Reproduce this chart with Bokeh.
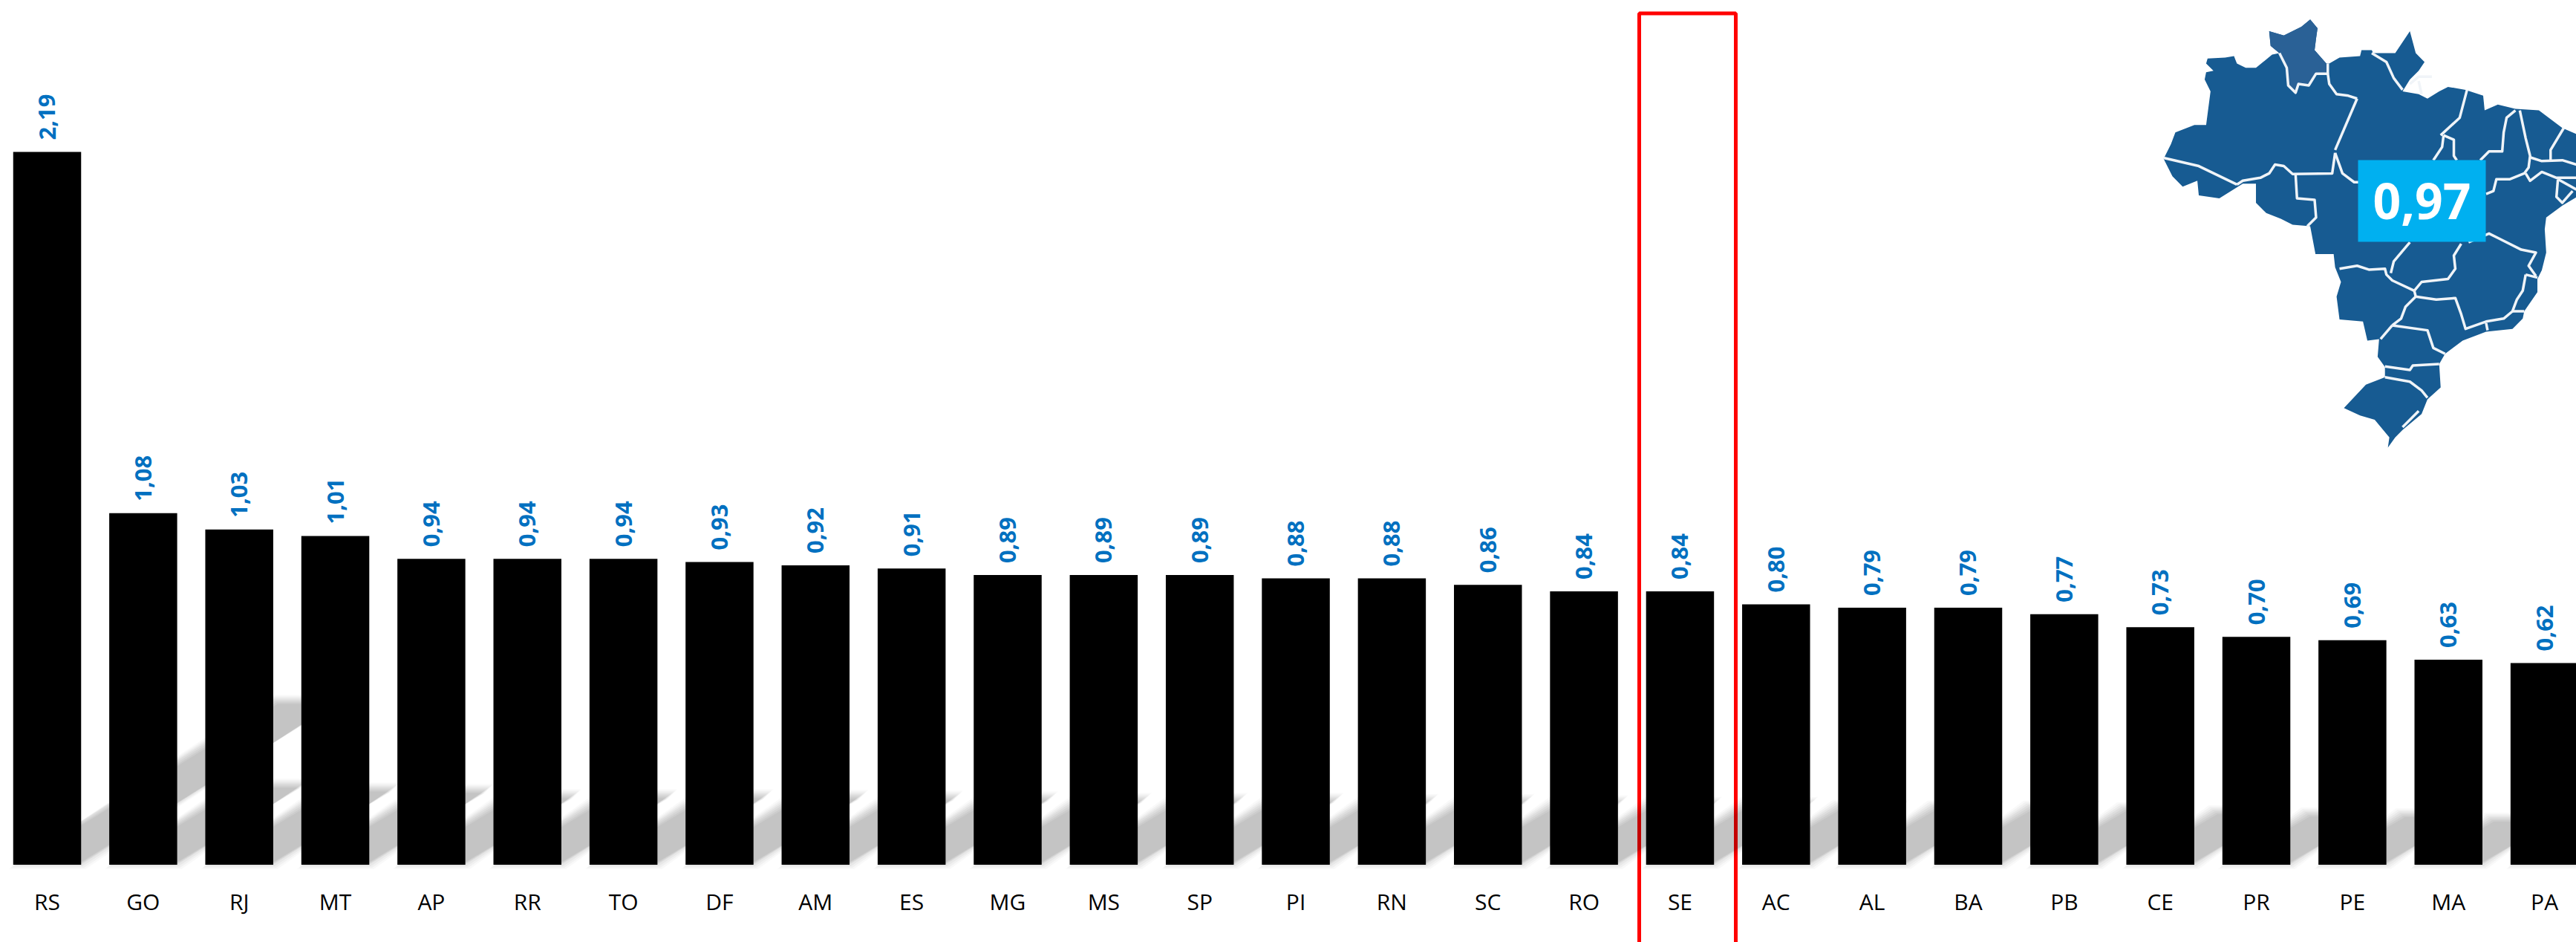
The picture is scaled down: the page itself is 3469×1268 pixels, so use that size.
from bokeh.plotting import figure
from bokeh.embed import file_html
from bokeh.resources import INLINE
from bokeh.models import Range1d, FixedTicker, LinearAxis
from bokeh.core.properties import value

STATES = ["RS","GO","RJ","MT","AP","RR","TO","DF","AM","ES","MG","MS","SP","PI","RN","SC","RO","SE","AC","AL","BA","PB","CE","PR","PE","MA","PA"]
VALUES = [2.19,1.08,1.03,1.01,0.94,0.94,0.94,0.93,0.92,0.91,0.89,0.89,0.89,0.88,0.88,0.86,0.84,0.84,0.80,0.79,0.79,0.77,0.73,0.70,0.69,0.63,0.62]
NATIONAL = "0,97"

MARGIN = 0
W, H = 3469 - MARGIN, 1268 - MARGIN
X0, PPX = 63.0 - MARGIN, 129.35      # pixel centre of the first bar, pixels per category
Y0, PPY = 1163.6 - MARGIN, 438.2     # baseline pixel, pixels per unit
BAR_PX = 91.5

def dx(px): return px / PPX
def dy(px): return px / PPY
def fx(ref): return (ref - MARGIN - X0) / PPX
def fy(ref): return (Y0 - (ref - MARGIN)) / PPY

p = figure(width=W, height=H, output_backend="svg", toolbar_location=None,
           x_range=Range1d(-X0 / PPX, (W - X0) / PPX),
           y_range=Range1d(-(H - Y0) / PPY, Y0 / PPY),
           x_axis_location=None, y_axis_location=None, min_border=0,
           background_fill_color="white", border_fill_color="white")
p.outline_line_color = None
p.grid.visible = False

xs = list(range(len(STATES)))

axis = LinearAxis(ticker=FixedTicker(ticks=xs),
                  major_label_overrides={i: s for i, s in zip(xs, STATES)},
                  fixed_location=0)
axis.axis_line_color = None
axis.major_tick_line_color = None
axis.minor_tick_line_color = None
axis.major_label_standoff = 23
axis.major_label_text_font = "Open Sans"
axis.major_label_text_font_size = "30px"
axis.major_label_text_color = "#000000"
p.add_layout(axis, "below")

# highlight frame
p.quad(left=[fx(2207)], right=[fx(2337)], top=[fy(17.5)], bottom=[fy(1400)],
       fill_color=None, line_color="#FF0000", line_width=5)

# diagonal cast shadows
half = dx(BAR_PX) / 2
for inset, alpha in ((-6, .025), (-4, .03), (-2, .035), (0, .04), (2, .04), (4, .04), (6, .04)):
    sx, sy = [], []
    for i, v in zip(xs, VALUES):
        sh = v * 0.232
        sk = dx(v * PPY * 0.365)
        t = max(sh - dy(inset), dy(2))
        sx.append([i - half + dx(inset), i + half - dx(inset), i + half - dx(inset) + sk, i - half + dx(inset) + sk])
        sy.append([dy(min(0, inset)), dy(min(0, inset)), t, t])
    p.patches(sx, sy, fill_color="black", fill_alpha=alpha, line_color=None)

# bars
p.vbar(x=xs, top=VALUES, bottom=0, width=dx(BAR_PX), fill_color="#000000", line_color=None)

# value labels
p.text(x=xs, y=[v + dy(16) for v in VALUES],
       text=[f"{v:.2f}".replace(".", ",") for v in VALUES],
       angle=1.5708, text_align="left", text_baseline="middle",
       text_color="#0070C0", text_font=value("Open Sans"),
       text_font_style="bold", text_font_size="31px")

# Map of Brazil (traced outline, in crop coordinates)
OUTLINE = [(660,65),(685,95),(680,130),(675,170),(715,215),(725,215),(760,195),(830,190),(835,170),(870,170),(875,180),(950,180),(1000,105),(1020,180),(1050,210),(1030,240),(1000,270),(975,310),(1030,320),(1060,335),(1100,310),(1130,295),(1190,305),(1250,325),(1255,375),(1300,355),(1360,370),(1440,375),(1520,435),(1600,470),(1640,560),(1620,640),(1520,700),(1465,740),(1460,780),(1465,860),(1450,920),(1435,950),(1435,995),(1390,1060),(1385,1085),(1350,1120),(1260,1130),(1180,1160),(1120,1205),(1100,1240),(1105,1320),(1060,1360),(1040,1410),(975,1465),(950,1490),(925,1525),(930,1490),(880,1430),(830,1415),(775,1390),(850,1310),(915,1285),(915,1250),(890,1215),(895,1155),(855,1160),(840,1095),(760,1088),(750,1010),(765,960),(745,910),(740,865),(678,865),(660,770),(600,765),(560,745),(510,725),(475,690),(475,625),(430,625),(350,675),(280,665),(275,615),(225,635),(190,600),(160,540),(185,490),(200,450),(265,425),(305,425),(320,310),(300,270),(305,245),(330,240),(305,215),(310,198),(370,195),(400,190),(410,215),(440,230),(475,230),(530,185),(555,180),(525,155),(520,105),(570,120),(630,90)]
ROR = [(660,65),(685,95),(680,130),(675,170),(715,215),(720,245),(680,250),(655,290),(620,285),(610,315),(585,290),(580,230),(555,180),(525,155),(520,105),(570,120),(630,90)]
BORDERS = [
 [(160,537),(280,565),(410,628)],
 [(410,628),(430,615),(490,605),(520,590),(540,560),(570,565),(600,592),(735,590),(745,520)],
 [(745,510),(820,335)],
 [(555,180),(580,230),(585,290),(610,315),(620,285),(655,290),(680,250),(720,250),(725,285),(750,320),(790,325),(820,335)],
 [(720,215),(720,250)],
 [(870,180),(920,210),(945,265),(975,305)],
 [(610,592),(615,675),(675,680),(680,740),(650,770)],
 [(745,520),(770,590),(810,620),(830,620)],
 [(1080,545),(1110,500),(1115,460)],
 [(1195,305),(1170,400),(1105,460)],
 [(1115,460),(1150,475),(1150,530),(1160,545)],
 [(1240,545),(1270,515),(1315,515),(1320,450),(1330,400),(1360,375)],
 [(1375,375),(1395,470),(1410,530),(1405,570),(1390,590),(1340,610),(1295,610),(1285,650),(1260,660)],
 [(1525,435),(1480,510),(1480,545)],
 [(1410,535),(1450,548),(1520,545),(1568,560)],
 [(1395,590),(1410,615),(1450,585),(1500,605),(1568,605)],
 [(1505,610),(1568,645)],
 [(1505,610),(1500,670),(1520,690),(1555,650)],
 [(1000,825),(945,890),(935,930)],
 [(760,915),(820,905),(860,918),(915,915),(920,935),(940,955),(1015,990)],
 [(1015,990),(1040,960),(1130,950),(1155,915),(1150,870),(1175,830)],
 [(1200,825),(1270,795),(1300,810),(1380,850),(1430,860),(1405,905),(1430,940)],
 [(1395,935),(1385,990),(1365,1020),(1350,1060),(1320,1085),(1260,1095),(1190,1120),(1175,1070),(1155,1015),(1090,1020),(1020,1010),(1015,990)],
 [(1020,1010),(985,1045),(970,1085),(940,1108)],
 [(940,1108),(900,1155)],
 [(940,1108),(1060,1125),(1080,1185),(1120,1205)],
 [(915,1248),(1000,1260),(1010,1245),(1100,1240)],
 [(915,1285),(1000,1300),(1040,1330),(1060,1355)],
 [(1350,1060),(1390,1060)],
 [(1260,1100),(1265,1125)],
 [(1395,935),(1435,945)],
 [(975,1455),(1030,1400)],
 [(1000,285),(1030,260),(1075,260)],
 [(1030,275),(1040,320)],
]
MAP_K = 2.533
def mx(c): return fx(2850 + c / MAP_K)
def my(c): return fy(c / MAP_K)

p.patch([mx(a) for a, b in OUTLINE], [my(b) for a, b in OUTLINE], fill_color="#175B92", line_color=None)
p.patch([mx(a) for a, b in ROR], [my(b) for a, b in ROR], fill_color="#2A6196", line_color=None)
p.multi_line([[mx(a) for a, b in l] for l in BORDERS], [[my(b) for a, b in l] for l in BORDERS],
             line_color="#F0F4F8", line_width=3.5, line_join="round")

# national value box
p.quad(left=[fx(3175)], right=[fx(3347)], top=[fy(215)], bottom=[fy(325)], fill_color="#00B0F0", line_color=None)
p.text(x=[fx(3261)], y=[fy(270)], text=[NATIONAL], text_align="center", text_baseline="middle",
       text_color="white", text_font=value("Open Sans"), text_font_style="bold", text_font_size="66px")

open("out.html", "w").write(file_html(p, INLINE))
